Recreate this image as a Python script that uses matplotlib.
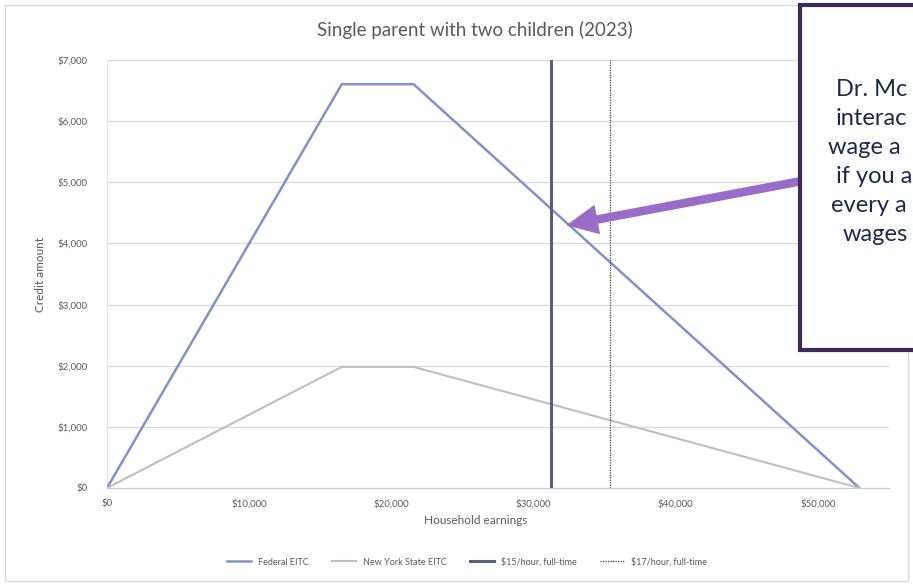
import matplotlib
matplotlib.use("Agg")
import matplotlib.pyplot as plt
from matplotlib.patches import Rectangle, FancyArrowPatch
from matplotlib.ticker import FuncFormatter, MultipleLocator

# data: 2023 EITC schedule, single parent with two children
earnings = [0, 16510, 21560, 52918]
federal_eitc = [0, 6604, 6604, 0]
ny_eitc = [0, 1981, 1981, 0]
wage_15_fulltime = 31200
wage_17_fulltime = 35360
note_lines = ["Dr. Mc", "interac", "wage a", "if you a", "every a", "wages"]

W, H = 913, 585
fig = plt.figure(figsize=(W / 100, H / 100), dpi=100)
plt.rcParams["font.family"] = ["Lato", "DejaVu Sans"]
grey = "#595959"

def fx(px):
    return px / W

def fy(py):
    return 1 - py / H

# chart frame
fig.add_artist(Rectangle((fx(5), fy(581)), fx(903), 576 / H, transform=fig.transFigure,
                         fill=False, edgecolor="#D9D9D9", lw=1))

ax = fig.add_axes([fx(107), fy(488), fx(889 - 107), (488 - 60) / H])
ax.plot(earnings, federal_eitc, color="#7F93C6", lw=1.8, label="Federal EITC", zorder=3)
ax.plot(earnings, ny_eitc, color="#BFBFBF", lw=1.5, label="New York State EITC", zorder=3)
ax.axvline(wage_15_fulltime, color="#56627A", lw=2.2, label="$15/hour, full-time", zorder=4)
ax.axvline(wage_17_fulltime, color="#404040", lw=0.9, ls=(0, (1, 1)),
           label="$17/hour, full-time", zorder=4)

ax.set_xlim(0, 55000)
ax.set_ylim(0, 7000)
ax.yaxis.set_major_locator(MultipleLocator(1000))
ax.set_xticks(range(0, 50001, 10000))
money = FuncFormatter(lambda v, _: f"${v:,.0f}")
ax.xaxis.set_major_formatter(money)
ax.yaxis.set_major_formatter(money)
ax.tick_params(length=0, labelsize=7, colors=grey)
ax.tick_params(axis="y", pad=14)
ax.tick_params(axis="x", pad=8)
ax.grid(axis="y", color="#D9D9D9", lw=0.9)
ax.set_axisbelow(True)
for s in ["top", "right"]:
    ax.spines[s].set_visible(False)
ax.spines["left"].set_color("#E3E3E3")
ax.spines["bottom"].set_color("#C8C8C8")

fig.text(fx(475), fy(30), "Single parent with two children (2023)", ha="center", va="center",
         fontsize=13.5, color=grey)
fig.text(fx(476), fy(521), "Household earnings", ha="center", va="center", fontsize=8.5, color=grey)
fig.text(fx(40), fy(275), "Credit amount", ha="center", va="center", rotation=90,
         fontsize=8.5, color=grey)

fig.legend(loc="center", bbox_to_anchor=(fx(467), fy(562)), ncol=4, frameon=False,
           fontsize=6.5, labelcolor=grey, handlelength=2.6, columnspacing=2.6)

# annotation arrow and text box
fig.add_artist(FancyArrowPatch((fx(802), fy(181)), (fx(568), fy(225)), transform=fig.transFigure,
                               arrowstyle="simple,head_length=1.05,head_width=1.0,tail_width=0.26",
                               mutation_scale=20, color="#9A6BC7", shrinkA=0, shrinkB=0, zorder=5))
fig.add_artist(Rectangle((fx(800), fy(350)), fx(200), 345 / H, transform=fig.transFigure,
                         facecolor="white", edgecolor="#3E2A5A", lw=3, zorder=6))
starts = [836, 836, 828, 836, 831, 843]
for i, (line, x0) in enumerate(zip(note_lines, starts)):
    fig.text(fx(x0), fy(96 + 29 * i), line, ha="left", va="baseline", fontsize=17,
             color="#1B2A4A", zorder=7)

fig.savefig("out.png", dpi=100)
